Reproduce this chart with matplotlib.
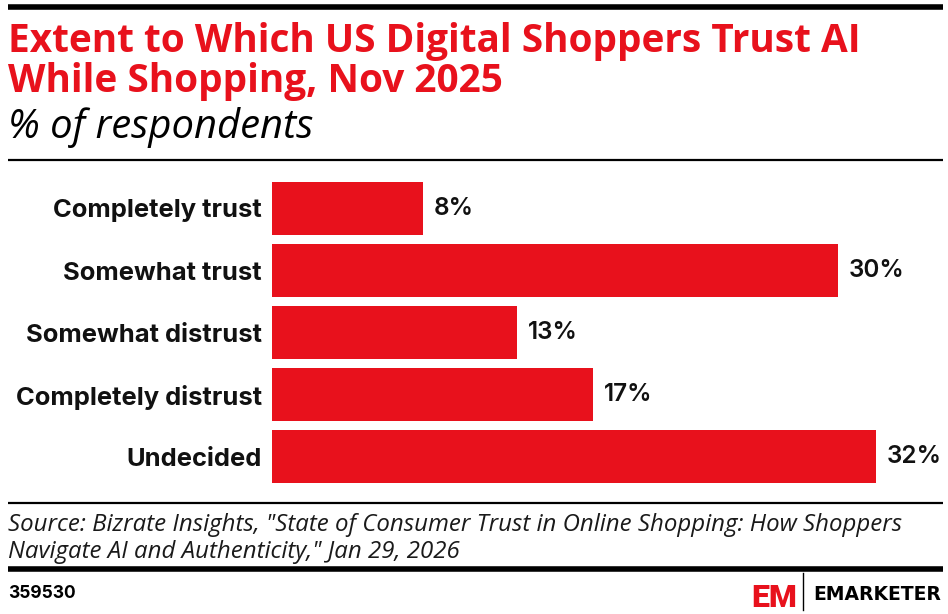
import matplotlib
matplotlib.use("Agg")
import matplotlib.pyplot as plt
from matplotlib.lines import Line2D

categories = ["Completely trust", "Somewhat trust", "Somewhat distrust",
              "Completely distrust", "Undecided"]
values = [8, 30, 13, 17, 32]

title_lines = ["Extent to Which US Digital Shoppers Trust AI",
               "While Shopping, Nov 2025"]
subtitle = "% of respondents"
source_lines = ["Source: Bizrate Insights, \"State of Consumer Trust in Online Shopping: How Shoppers",
                "Navigate AI and Authenticity,\" Jan 29, 2026"]
chart_id = "359530"

RED = "#e8111c"
INK = "#111111"
W, H = 948, 614

fig = plt.figure(figsize=(W / 100, H / 100), dpi=100)
renderer = fig.canvas.get_renderer()


def px(x, y):
    # pixel coords (top-left origin) -> figure fraction
    return x / W, 1 - y / H


def hline(y, x0, x1, lw):
    fig.add_artist(Line2D([x0 / W, x1 / W], [1 - y / H, 1 - y / H],
                          color="black", lw=lw, transform=fig.transFigure,
                          solid_capstyle="butt"))


def fit(t, width_px):
    # scale font so the text spans width_px
    bb = t.get_window_extent(renderer)
    t.set_fontsize(t.get_fontsize() * width_px / bb.width)
    return t


# axes: bars start at x=272, 1% = 18.87 px
ax_left, ax_right = 272, 940
ax_top, ax_bot = 177.5, 487.5
ax = fig.add_axes([ax_left / W, 1 - ax_bot / H, (ax_right - ax_left) / W,
                   (ax_bot - ax_top) / H])
ax.barh(range(len(values)), values, height=0.855, color=RED)
ax.set_xlim(0, (ax_right - ax_left) / 18.87)
ax.set_ylim(len(values) - 0.5, -0.5)
ax.set_yticks(range(len(values)))
ax.set_yticklabels(categories, fontsize=18.4, fontweight="bold",
                   family="Inter", color=INK)
ax.tick_params(axis="y", length=0, pad=7.2)
ax.set_xticks([])
for s in ax.spines.values():
    s.set_visible(False)
for i, v in enumerate(values):
    ax.annotate(f"{v}%", (v, i), xytext=(8, 0), textcoords="offset points",
                va="center", ha="left", fontsize=17.5, fontweight="semibold",
                family="Inter", color=INK)

# header
hline(7, 8, 943, 4)
for k, line in enumerate(title_lines):
    t = fig.text(*px(8, 52 + 40 * k), line, fontsize=26, fontweight="bold",
                 family="Open Sans", color=RED, va="baseline", ha="left")
    if k == 0:
        fit(t, 854)
        tsize = t.get_fontsize()
    else:
        t.set_fontsize(tsize)
st = fig.text(*px(8, 138), subtitle, fontsize=22, style="italic",
              family="Open Sans", color="black", va="baseline", ha="left")
fit(st, 305)
hline(160, 8, 943, 1.6)

# footer
hline(503, 8, 943, 1.6)
for k, line in enumerate(source_lines):
    t = fig.text(*px(8, 531 + 26.5 * k), line, fontsize=15, style="italic",
                 family="Open Sans", color="#1a1a1a", va="baseline", ha="left")
    if k == 0:
        fit(t, 894)
        ssize = t.get_fontsize()
    else:
        t.set_fontsize(ssize)
hline(569, 8, 943, 4)
fig.text(*px(8, 597.5), chart_id, fontsize=12.5, fontweight="bold",
         family="Inter", color="black", va="baseline", ha="left")

# logo
em = fig.text(*px(751, 607), "EM", fontsize=26, fontweight="heavy",
              family="Roboto", color=RED, va="baseline", ha="left")
fit(em, 46)
fig.add_artist(Line2D([803 / W, 803 / W], [1 - 573 / H, 1 - 610 / H],
                      color="black", lw=1, transform=fig.transFigure))
fig.text(*px(813, 600), "EMARKETER", fontsize=13.5, fontweight="bold",
         family="DejaVu Sans", color="black", va="baseline", ha="left")

fig.savefig("out.png", dpi=100)
